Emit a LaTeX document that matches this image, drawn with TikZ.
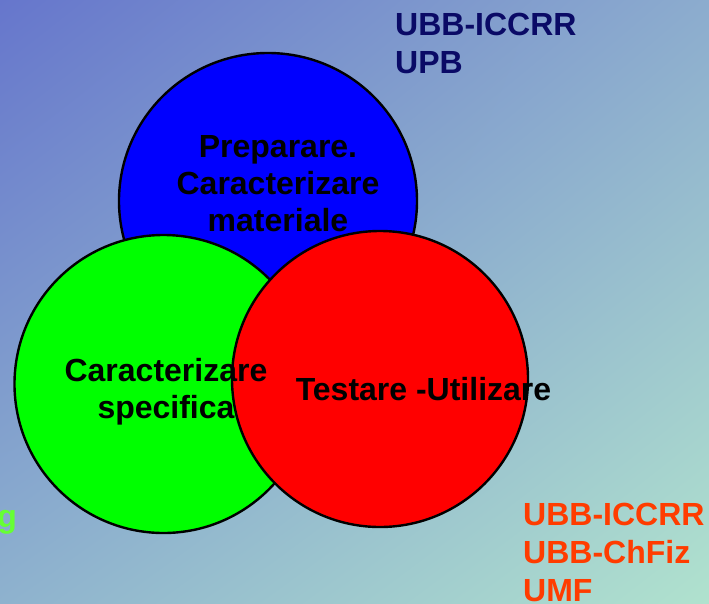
\documentclass[tikz,border=0pt]{standalone}
\usepackage{fontspec}
\setmainfont{Liberation Sans}
\usetikzlibrary{shadings}
\definecolor{bgtl}{RGB}{102,118,204}
\definecolor{bgtr}{RGB}{140,172,206}
\definecolor{bgbl}{RGB}{142,178,206}
\definecolor{bgbr}{RGB}{176,226,206}
\definecolor{navy}{RGB}{10,10,102}
\definecolor{orangered}{RGB}{255,60,0}
\definecolor{lightgreen}{RGB}{102,255,51}
\begin{document}
\begin{tikzpicture}[x=1pt,y=-1pt,
  lbl/.style={font=\fontsize{32}{37}\selectfont\bfseries, inner sep=0pt, align=center},
  side/.style={font=\fontsize{32}{38}\selectfont\bfseries, inner sep=0pt, align=left},
  venn/.style={draw=black, line width=2.4pt}]
\useasboundingbox (0,0) rectangle (709,603);
\shade[upper left=bgtl, upper right=bgtr, lower left=bgbl, lower right=bgbr] (0,0) rectangle (709,603);
% circles
\path[venn, fill={rgb,255:red,0;green,0;blue,255}] (268,201) ellipse [x radius=149, y radius=148];
\path[venn, fill={rgb,255:red,0;green,255;blue,0}] (163.5,384) ellipse [x radius=149, y radius=149];
\path[venn, fill={rgb,255:red,255;green,0;blue,0}] (380,379) ellipse [x radius=148, y radius=148];
% labels
\node[lbl, anchor=north] (prep) at (278,135) {Preparare.\\Caracterizare\\materiale};
\node[lbl, anchor=north] (spec) at (166,358) {Caracterizare\\specifica};
\node[lbl, anchor=base] (test) at (423.5,400) {Testare -Utilizare};
\node[side, anchor=north west, text=navy] (top) at (395,13) {UBB-ICCRR\\UPB};
\node[side, anchor=north west, text=orangered] (bot) at (523,503) {UBB-ICCRR\\UBB-ChFiz\\UMF};
\node[lbl, anchor=base east, text=lightgreen] (g) at (17,527) {g};
\end{tikzpicture}
\end{document}
